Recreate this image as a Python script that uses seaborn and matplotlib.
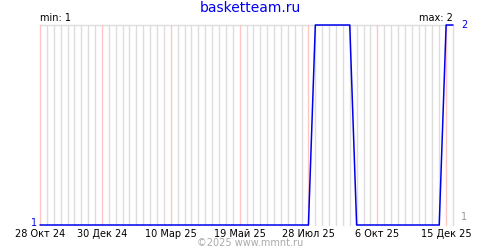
import numpy as np
import pandas as pd
import matplotlib
matplotlib.use("Agg")
import matplotlib.pyplot as plt
import matplotlib.dates as mdates
import seaborn as sns

title = "basketteam.ru"
start_date = "2024-10-28"
n_weeks = 61
values = [1] * 40 + [2, 2, 2, 2, 2, 2] + [1] * 13 + [2, 2]
major_dates = ["2024-10-28", "2024-12-30", "2025-03-10", "2025-05-19",
               "2025-07-28", "2025-10-06", "2025-12-15"]
major_labels = ["28 Окт 24", "30 Дек 24", "10 Мар 25", "19 Май 25",
                "28 Июл 25", "6 Окт 25", "15 Дек 25"]
min_label = "min: 1"
max_label = "max: 2"
footer = "©2025 www.mmnt.ru"

dates = pd.date_range(start_date, periods=n_weeks, freq="7D")
df = pd.DataFrame({"date": dates, "value": values})

sns.set_theme(style="white")
plt.rcParams["font.family"] = ["DejaVu Sans"]

fig = plt.figure(figsize=(5, 2.5), dpi=100)
ax = fig.add_axes([40 / 500, 25 / 250, 413 / 500, 200 / 250])

# grid
majors = pd.to_datetime(major_dates)
for d in dates:
    if d in majors:
        continue
    ax.axvline(d, color="#dddddd", lw=1, zorder=1, clip_on=False)
for d in majors:
    ax.axvline(d, color="#ffc4c4", lw=1, zorder=1.5, clip_on=False)
ax.axhline(2, color="#dddddd", lw=1, zorder=1, clip_on=False)

sns.lineplot(data=df, x="date", y="value", ax=ax, color="#0000ee",
             lw=1.1, zorder=3, clip_on=False)

ax.set_xlim(dates[0], dates[-1])
ax.set_ylim(1, 2)
for s in ax.spines.values():
    s.set_visible(False)
ax.set_xlabel("")
ax.set_ylabel("")
ax.set_yticks([])
ax.set_xticks(majors)
ax.set_xticklabels(major_labels, fontsize=7, color="black")
ax.tick_params(axis="x", length=0, pad=3)

# labels
ax.text(-0.006, 0.01, "1", transform=ax.transAxes, ha="right", va="center",
        fontsize=7, color="#0000ee")
ax.text(1.02, 1, "2", transform=ax.transAxes, ha="left", va="center",
        fontsize=7, color="#0000ee")
ax.text(1.02, 0.04, "1", transform=ax.transAxes, ha="left", va="center",
        fontsize=7, color="#999999")
ax.text(0.0, 1.01, min_label, transform=ax.transAxes, ha="left", va="bottom",
        fontsize=7, color="black")
ax.text(1.0, 1.01, max_label, transform=ax.transAxes, ha="right", va="bottom",
        fontsize=7, color="black")

fig.text(0.5, 1 - 8 / 250, title, ha="center", va="center", fontsize=10,
         color="#0000ee")
fig.text(0.5, 1 - 243 / 250, footer, ha="center", va="center", fontsize=7,
         color="#aaaaaa")

fig.savefig("out.png", dpi=100, facecolor="white")
